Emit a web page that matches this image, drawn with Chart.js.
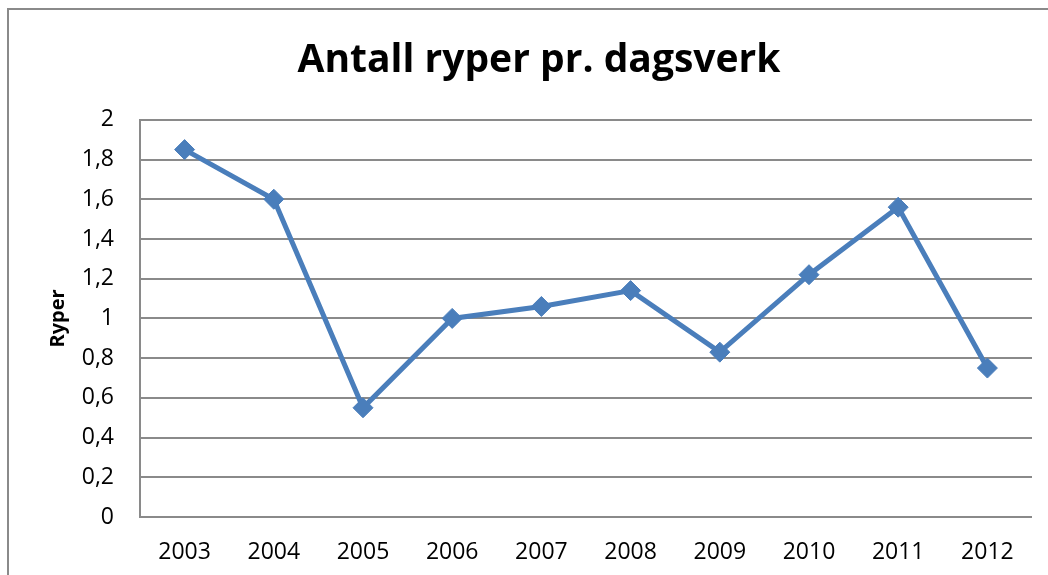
<!DOCTYPE html>
<html>
<head>
<meta charset="utf-8">
<script src="https://cdn.jsdelivr.net/npm/chart.js@4"></script>
<style>
	html, body { margin: 0; padding: 0; background: #fff; overflow: hidden; }
	#wrap { position: relative; width: 1048px; height: 575px; }
	#frame { position: absolute; left: 7px; top: 8px; width: 1100px; height: 700px; border: 2px solid #8a8a8a; box-sizing: border-box; }
	canvas { position: absolute; left: 0; top: 0; }
</style>
</head>
<body>
<div id="wrap">
	<div id="frame"></div>
	<canvas id="chart" width="1048" height="575"></canvas>
</div>
<script>
const years = ['2003', '2004', '2005', '2006', '2007', '2008', '2009', '2010', '2011', '2012'];
const ryper = [1.85, 1.6, 0.55, 1.0, 1.06, 1.14, 0.83, 1.22, 1.56, 0.75];
const yTickLabels = ['0', '0,2', '0,4', '0,6', '0,8', '1', '1,2', '1,4', '1,6', '1,8', '2'];

document.addEventListener('DOMContentLoaded', function() {
	const ctx = document.getElementById('chart').getContext('2d');
	new Chart(ctx, {
		type: 'line',
		data: {
			labels: years,
			datasets: [{
				label: 'Ryper',
				data: ryper,
				borderColor: '#4a7ebb',
				backgroundColor: '#4a7ebb',
				borderWidth: 5,
				pointStyle: 'rectRot',
				pointRadius: 10,
				pointBorderWidth: 1,
				tension: 0
			}]
		},
		options: {
			responsive: false,
			animation: false,
			layout: {
				padding: { left: 46, right: 16, top: 36, bottom: 0 }
			},
			plugins: {
				legend: { display: false },
				tooltip: { enabled: false },
				title: {
					display: true,
					text: 'Antall ryper pr. dagsverk',
					color: '#000',
					font: { family: 'Open Sans', size: 39, weight: 'bold' },
					padding: { top: 1, bottom: 36 }
				}
			},
			scales: {
				x: {
					offset: true,
					afterFit: function(scale) { scale.height = 58; },
					grid: { display: false, drawTicks: false },
					border: { display: false },
					ticks: {
						color: '#000',
						padding: 22,
						font: { family: 'Open Sans', size: 23 }
					}
				},
				y: {
					min: 0,
					max: 2,
					afterFit: function(scale) { scale.width = 94; },
					grid: { color: '#8a8a8a', lineWidth: 2, drawTicks: false },
					border: { display: true, color: '#8a8a8a', width: 2 },
					title: {
						display: true,
						text: 'Ryper',
						color: '#000',
						font: { family: 'Open Sans', size: 20, weight: 'bold' },
						padding: 0
					},
					ticks: {
						stepSize: 0.2,
						color: '#000',
						padding: 26,
						font: { family: 'Open Sans', size: 23 },
						callback: function(value, index) { return yTickLabels[index]; }
					}
				}
			}
		}
	});
});
</script>
</body>
</html>
